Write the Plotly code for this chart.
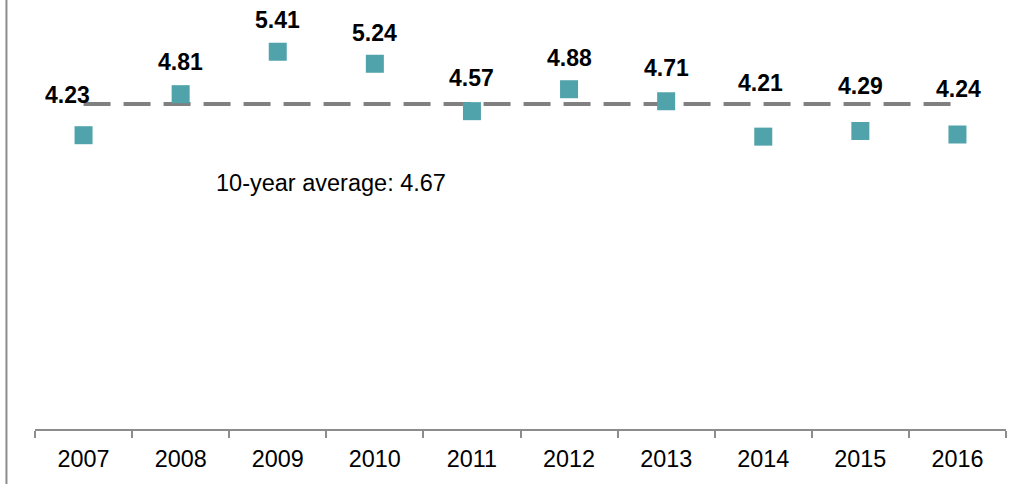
import plotly.graph_objects as go

years = ["2007", "2008", "2009", "2010", "2011", "2012", "2013", "2014", "2015", "2016"]
values = [4.23, 4.81, 5.41, 5.24, 4.57, 4.88, 4.71, 4.21, 4.29, 4.24]
average = 4.67
average_label = "10-year average: 4.67"

# label placement (pixels above the marker centre, horizontal shift)
label_yshift = [40, 32, 32, 31, 33, 31, 33, 54, 45, 46]
label_xshift = [-16, 0, 0, 0, 0, 0, 0, -3, 0, 1]

marker_color = "#50A2AB"
gray = "#808080"

fig = go.Figure()

fig.add_trace(go.Scatter(
    x=years, y=[average] * len(years), mode="lines",
    line=dict(color=gray, width=4, dash="27px,13px"),
    hoverinfo="skip", showlegend=False,
))

fig.add_trace(go.Scatter(
    x=years, y=values, mode="markers",
    marker=dict(symbol="square", size=18, color=marker_color, line=dict(width=0)),
    showlegend=False,
))

for i, (yr, v) in enumerate(zip(years, values)):
    fig.add_annotation(
        x=i, y=v, text=f"<b>{v:.2f}</b>", showarrow=False,
        yshift=label_yshift[i], xshift=label_xshift[i],
        font=dict(family="Liberation Sans, Arial", size=23, color="#000000"),
    )

fig.add_annotation(
    x=2.55, y=3.55, text=average_label, showarrow=False,
    font=dict(family="Liberation Sans, Arial", size=23.5, color="#000000"),
)

fig.add_shape(
    type="line", xref="paper", yref="paper",
    x0=-0.0294, x1=-0.0294, y0=-0.2, y1=1.1,
    line=dict(color="#8C8C8C", width=2),
)

fig.update_layout(
    width=1030, height=484,
    margin=dict(l=35, r=24, t=10, b=54.5),
    paper_bgcolor="white", plot_bgcolor="white",
    font=dict(family="Liberation Sans, Arial", size=23.4, color="#000000"),
    xaxis=dict(
        type="category", range=[-0.5, 9.5],
        showline=True, linecolor="#8C8C8C", linewidth=2,
        ticks="outside", tickson="boundaries", ticklen=7, tickwidth=2, tickcolor="#8C8C8C",
        ticklabelstandoff=8,
        showgrid=False, zeroline=False,
        tickfont=dict(size=23.4),
    ),
    yaxis=dict(
        range=[0.077, 6.0], visible=False, showgrid=False, zeroline=False,
    ),
)

fig.write_html(
    "out.html",
    config={"displayModeBar": False},
    post_script="document.body.style.margin='0';document.body.style.overflow='hidden';",
)
